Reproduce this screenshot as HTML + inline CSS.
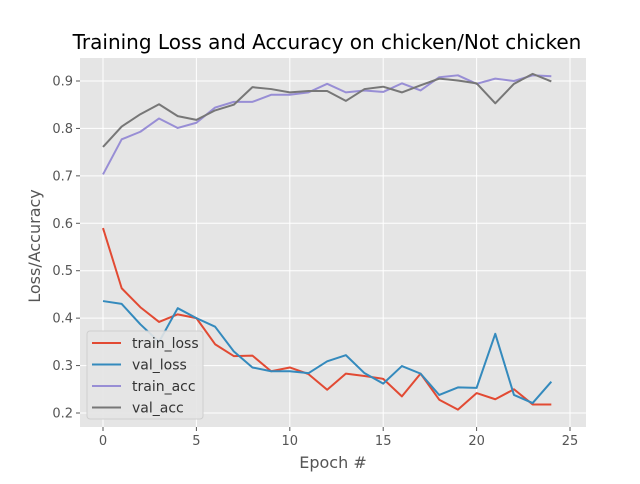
<!DOCTYPE html>
<html><head><meta charset="utf-8"><style>
body{margin:0;background:#fff;font-family:"DejaVu Sans","Liberation Sans",sans-serif}
</style></head><body>
<svg id="chart" width="640" height="480" xmlns="http://www.w3.org/2000/svg" font-family="DejaVu Sans, Liberation Sans, sans-serif"></svg>
<script>
const epochs=[0,1,2,3,4,5,6,7,8,9,10,11,12,13,14,15,16,17,18,19,20,21,22,23,24];
const trainLoss=[0.59,0.463,0.423,0.392,0.408,0.400,0.345,0.320,0.321,0.288,0.296,0.282,0.249,0.283,0.278,0.272,0.235,0.283,0.228,0.207,0.242,0.229,0.250,0.218,0.218];
const valLoss=[0.436,0.430,0.387,0.350,0.421,0.400,0.382,0.330,0.296,0.288,0.288,0.284,0.309,0.322,0.284,0.262,0.299,0.283,0.238,0.254,0.253,0.367,0.238,0.221,0.266];
const trainAcc=[0.703,0.777,0.793,0.821,0.801,0.812,0.844,0.856,0.856,0.871,0.871,0.876,0.894,0.876,0.880,0.877,0.895,0.880,0.908,0.912,0.894,0.905,0.900,0.912,0.910];
const valAcc=[0.761,0.804,0.830,0.851,0.826,0.818,0.838,0.850,0.887,0.883,0.876,0.879,0.879,0.858,0.883,0.888,0.876,0.891,0.905,0.901,0.895,0.853,0.894,0.915,0.899];
const xTicks=[0,5,10,15,20,25];
const yTicks=[0.2,0.3,0.4,0.5,0.6,0.7,0.8,0.9];
const seriesNames=["train_loss","val_loss","train_acc","val_acc"];
const colors=["#E24A33","#348ABD","#988ED5","#777777"];
const L=80,R=586,T=58,B=427;
const x=v=>103+(v)*(570-103)/25;
const y=v=>413-(v-0.2)*(413-81)/0.7;
const svg=document.getElementById('chart');
const NS="http://www.w3.org/2000/svg";
function mk(tag,attrs,parent){const e=document.createElementNS(NS,tag);for(const k in attrs)e.setAttribute(k,attrs[k]);(parent||svg).appendChild(e);return e;}
let bg=mk('rect',{x:L,y:T,width:R-L,height:B-T,fill:'#E5E5E5'});


xTicks.forEach(t=>{
 let g=mk('line',{x1:x(t),x2:x(t),y1:T,y2:B,stroke:'#fff','stroke-width':1});
 
 
 let tk=mk('line',{x1:x(t),x2:x(t),y1:B,y2:B+4,stroke:'#555'});
 
 
 let tx=mk('text',{x:x(t),y:B+18,'text-anchor':'middle','font-size':13,fill:'#555'});
 tx.textContent=t;
 
 
});
yTicks.forEach(t=>{
 let g=mk('line',{x1:L,x2:R,y1:y(t),y2:y(t),stroke:'#fff','stroke-width':1});
 
 
 let tk=mk('line',{x1:L-4,x2:L,y1:y(t),y2:y(t),stroke:'#555'});
 
 
 let tx=mk('text',{x:L-7,y:y(t)+4.5,'text-anchor':'end','font-size':13,fill:'#555'});
 tx.textContent=t.toFixed(1);
 
 
});
[trainLoss,valLoss,trainAcc,valAcc].forEach((s,i)=>{
 const pts=s.map((v,j)=>x(epochs[j])+','+y(v)).join(' ');
 let pl=mk('polyline',{points:pts,fill:'none',stroke:colors[i],'stroke-width':2,'stroke-linejoin':'round'});
 
 
});
let title=mk('text',{x:327,y:49,'text-anchor':'middle','font-size':20,fill:'#000'});
title.textContent='Training Loss and Accuracy on chicken/Not chicken';


let xl=mk('text',{x:333,y:468,'text-anchor':'middle','font-size':16,fill:'#555'});
xl.textContent='Epoch #';


let yl=mk('text',{x:0,y:0,'text-anchor':'middle','font-size':16,fill:'#555',transform:'translate(40,246) rotate(-90)'});
yl.textContent='Loss/Accuracy';


let lg=mk('rect',{x:87,y:331,width:116,height:88,fill:'#E5E5E5',stroke:'#ccc',rx:3,opacity:0.9});


seriesNames.forEach((n,i)=>{
 const yy=343+i*21.5;
 let ln=mk('line',{x1:92,x2:121,y1:yy,y2:yy,stroke:colors[i],'stroke-width':2});
 
 
 let t=mk('text',{x:132,y:yy+5,'font-size':14,fill:'#333'});
 t.textContent=n;
 
 
});
</script>
</body></html>
